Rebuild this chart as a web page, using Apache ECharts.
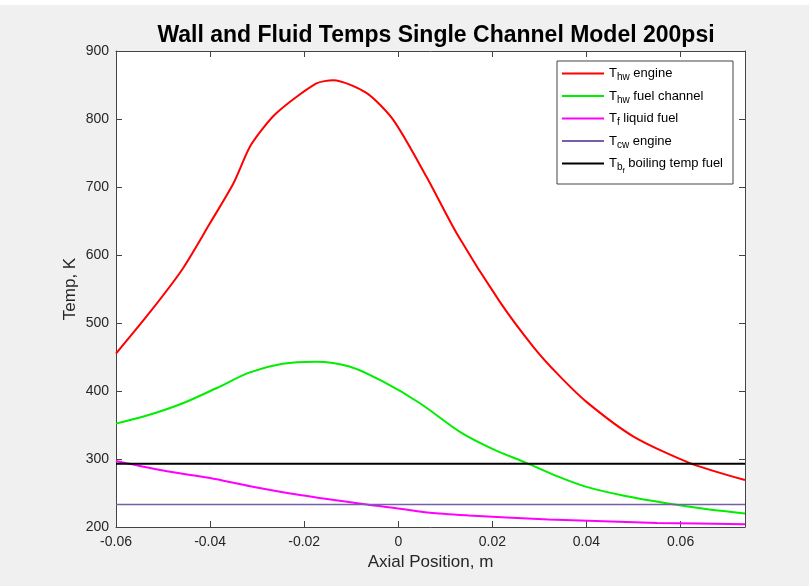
<!DOCTYPE html>
<html><head><meta charset="utf-8">
<script src="https://cdn.jsdelivr.net/npm/echarts@6/dist/echarts.min.js"></script>
<style>html,body{margin:0;padding:0;background:#f0f0f0}#c{width:809px;height:586px}</style>
</head><body><div id="c"></div>
<script>
// ---- data ----
const seriesNames = ['Thw engine', 'Thw fuel channel', 'Tf liquid fuel', 'Tcw engine', 'Tbf boiling temp fuel'];
const xRed = [-0.06,-0.053,-0.046,-0.040,-0.035,-0.0313,-0.026,-0.0175,-0.0138,-0.0067,-0.001,0.006,0.0124,0.0216,0.0287,0.034,0.040,0.050,0.062,0.0737];
const yRed = [455,514,578,647,706,762,808,852,857,838,798,715,632,531,465,424,384,333,294,269];
const xGreen = [-0.06,-0.0529,-0.0458,-0.0387,-0.0317,-0.0246,-0.0175,-0.0104,-0.0033,0.0046,0.0131,0.02,0.0273,0.034,0.04,0.048,0.057,0.065,0.0737];
const yGreen = [352,365,382,404,427,440,443,436,414,382,340,315,294,274,259,246,235,227,220];
const xMag = [-0.06,-0.0492,-0.04,-0.0315,-0.0209,-0.0067,0.0004,0.0068,0.015,0.023,0.032,0.042,0.055,0.0737];
const yMag = [297,282,272,260,247,233,227,221,217,214,211,209,206,204];
const xRange = [-0.06, 0.0737];
const tCw = [233, 233];
const tB = [293, 293];
const yTicks = [200, 300, 400, 500, 600, 700, 800, 900];
const xTickStep = 0.02;

const FONT = '"Liberation Sans", Arial, Helvetica, sans-serif';
const zip = (xs, ys) => xs.map((x, i) => [x, ys[i]]);
const richNames = {
  'Thw engine': '{n|T}{s|hw}{n| engine}',
  'Thw fuel channel': '{n|T}{s|hw}{n| fuel channel}',
  'Tf liquid fuel': '{n|T}{s|f}{n| liquid fuel}',
  'Tcw engine': '{n|T}{s|cw}{n| engine}',
  'Tbf boiling temp fuel': '{n|T}{s|b}{ss|f}{n| boiling temp fuel}'
};
const colors = ['#ff0000', '#00ee00', '#ff00ff', '#7560a8', '#000000'];
const axisColor = '#444';
const labelColor = '#262626';

const chart = echarts.init(document.getElementById('c'), null, {renderer: 'canvas'});
const lineSeries = (name, data, color, width, smooth) => ({
  name, type: 'line', data, showSymbol: false, symbol: 'none', smooth: smooth,
  lineStyle: {color, width}, itemStyle: {color}, animation: false, z: 3
});
chart.setOption({
  backgroundColor: '#f0f0f0',
  animation: false,
  graphic: [{type: 'rect', left: 0, top: 0, shape: {width: 809, height: 5}, style: {fill: '#fff'}}],
  title: {
    text: 'Wall and Fluid Temps Single Channel Model 200psi',
    left: 431, top: 19, textAlign: 'center',
    textStyle: {fontFamily: FONT, fontSize: 23, fontWeight: 'bold', color: '#000'}
  },
  grid: {left: 116, right: 64, top: 51, bottom: 59, show: true, backgroundColor: '#fff', borderWidth: 0},
  legend: {
    orient: 'vertical', left: 557, top: 61,
    padding: [6, 10, 9, 5], backgroundColor: '#fff', borderColor: '#444', borderWidth: 1,
    itemWidth: 42, itemHeight: 2, itemGap: 7, icon: 'rect',
    data: seriesNames,
    formatter: n => richNames[n],
    textStyle: {
      fontFamily: FONT, fontSize: 13, color: '#000',
      rich: {
        n: {fontFamily: FONT, fontSize: 13, color: '#000'},
        s: {fontFamily: FONT, fontSize: 10, color: '#000', padding: [8, 0, 0, 0]},
        ss: {fontFamily: FONT, fontSize: 8, color: '#000', padding: [15, 0, 0, 0]}
      }
    }
  },
  xAxis: [{
    type: 'value', min: xRange[0], max: xRange[1], interval: xTickStep,
    name: 'Axial Position, m', nameLocation: 'middle', nameGap: 26,
    nameTextStyle: {fontFamily: FONT, fontSize: 17, color: labelColor},
    axisLine: {onZero: false, lineStyle: {color: axisColor, width: 1}},
    axisTick: {inside: true, length: 6, lineStyle: {color: axisColor}},
    splitLine: {show: false},
    axisLabel: {
      fontFamily: FONT, fontSize: 14, color: labelColor, margin: 8,
      formatter: v => {
        const k = v / xTickStep;
        if (Math.abs(k - Math.round(k)) > 1e-6) return '';
        return String(+(Math.round(k) * xTickStep).toFixed(2));
      }
    }
  }, {
    type: 'value', position: 'top', min: xRange[0], max: xRange[1], interval: xTickStep,
    axisLine: {onZero: false, lineStyle: {color: axisColor}},
    axisTick: {inside: true, length: 6, lineStyle: {color: axisColor}},
    axisLabel: {show: false}, splitLine: {show: false}
  }],
  yAxis: [{
    type: 'value', min: yTicks[0], max: yTicks[yTicks.length - 1], interval: 100,
    name: 'Temp, K', nameLocation: 'middle', nameGap: 37, nameMoveOverlap: false,
    nameTextStyle: {fontFamily: FONT, fontSize: 17, color: labelColor},
    axisLine: {show: true, onZero: false, lineStyle: {color: axisColor, width: 1}},
    axisTick: {show: true, inside: true, length: 6, lineStyle: {color: axisColor}},
    splitLine: {show: false},
    axisLabel: {fontFamily: FONT, fontSize: 14, color: labelColor, margin: 7}
  }, {
    type: 'value', position: 'right', min: yTicks[0], max: yTicks[yTicks.length - 1], interval: 100,
    axisLine: {show: true, onZero: false, lineStyle: {color: axisColor}},
    axisTick: {show: true, inside: true, length: 6, lineStyle: {color: axisColor}},
    axisLabel: {show: false}, splitLine: {show: false}
  }],
  series: [
    lineSeries(seriesNames[0], zip(xRed, yRed), colors[0], 2, 0.25),
    lineSeries(seriesNames[1], zip(xGreen, yGreen), colors[1], 2, 0.3),
    lineSeries(seriesNames[2], zip(xMag, yMag), colors[2], 2, 0.25),
    lineSeries(seriesNames[3], zip(xRange, tCw), colors[3], 1.5, false),
    lineSeries(seriesNames[4], zip(xRange, tB), colors[4], 2, false)
  ]
});
</script></body></html>
